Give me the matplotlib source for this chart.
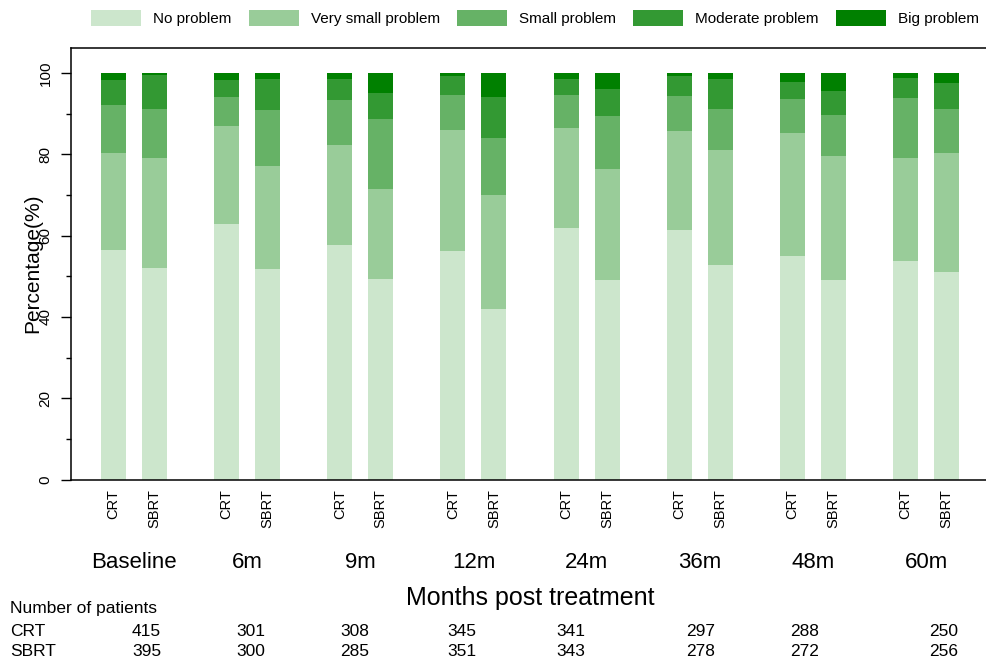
import matplotlib.pyplot as plt
import numpy as np
from matplotlib.transforms import blended_transform_factory

plt.rcParams['font.family'] = ['Liberation Sans', 'DejaVu Sans']

timepoints = ['Baseline', '6m', '9m', '12m', '24m', '36m', '48m', '60m']
categories = ['No problem', 'Very small problem', 'Small problem',
              'Moderate problem', 'Big problem']
colors = ['#cce6cc', '#99cc99', '#66b266', '#339933', '#008000']

# percentages per category, CRT arm
crt_no = [56.4, 62.8, 57.7, 56.2, 61.9, 61.4, 55.0, 53.7]
crt_very_small = [23.9, 24.2, 24.6, 29.8, 24.6, 24.3, 30.2, 25.4]
crt_small = [11.8, 7.1, 11.1, 8.6, 8.1, 8.6, 8.4, 14.7]
crt_moderate = [6.2, 4.2, 5.1, 4.7, 3.9, 5.0, 4.2, 5.0]
crt_big = [1.7, 1.7, 1.5, 0.7, 1.5, 0.7, 2.2, 1.2]

# percentages per category, SBRT arm
sbrt_no = [52.0, 51.8, 49.3, 41.9, 49.1, 52.7, 49.1, 51.0]
sbrt_very_small = [27.1, 25.3, 22.2, 28.1, 27.3, 28.5, 30.5, 29.3]
sbrt_small = [12.0, 13.8, 17.2, 14.0, 13.0, 9.9, 10.1, 10.8]
sbrt_moderate = [8.4, 7.6, 6.4, 10.1, 6.7, 7.4, 5.9, 6.4]
sbrt_big = [0.5, 1.5, 4.9, 5.9, 3.9, 1.5, 4.4, 2.5]

# number of patients
n_crt = [415, 301, 308, 345, 341, 297, 288, 250]
n_sbrt = [395, 300, 285, 351, 343, 278, 272, 256]

crt_series = [crt_no, crt_very_small, crt_small, crt_moderate, crt_big]
sbrt_series = [sbrt_no, sbrt_very_small, sbrt_small, sbrt_moderate, sbrt_big]

W, H = 987, 665
fig = plt.figure(figsize=(W / 100, H / 100), dpi=100)
ax = fig.add_axes([71 / W, 1 - 479.5 / H, 1 - 71 / W, (479.5 - 48) / H])

x = np.arange(len(timepoints))
off = 0.181
width = 0.221

for vals_list, xpos in [(crt_series, x - off), (sbrt_series, x + off)]:
    bottom = np.zeros(len(timepoints))
    for vals, col, lab in zip(vals_list, colors, categories):
        ax.bar(xpos, vals, width, bottom=bottom, color=col, label=lab)
        bottom += np.array(vals)

ax.set_xlim(-0.557, 7.539)
ax.set_ylim(0, 106.2)

ax.spines['right'].set_visible(False)
for s in ['left', 'bottom', 'top']:
    ax.spines[s].set_linewidth(1.1)
    ax.spines[s].set_color('black')

ax.set_yticks([0, 20, 40, 60, 80, 100])
ax.set_yticks([10, 30, 50, 70, 90], minor=True)
ax.tick_params(axis='y', which='major', length=7.2, width=1, pad=6, labelsize=11)
ax.tick_params(axis='y', which='minor', length=3.6, width=1)
for t in ax.get_yticklabels():
    t.set_rotation(90)
    t.set_va('center')

xt = np.concatenate([x - off, x + off])
ax.set_xticks(xt)
ax.set_xticklabels(['CRT'] * len(x) + ['SBRT'] * len(x), rotation=90, fontsize=10.5)
ax.tick_params(axis='x', length=0, pad=7)

# legend across the top
handles, labels = ax.get_legend_handles_labels()
fig.legend(handles[:5], labels[:5], loc='center', bbox_to_anchor=(535 / W, 1 - 18 / H),
           ncol=5, frameon=False, fontsize=11, handlelength=3.27, handleheight=1.31,
           handletextpad=0.78, columnspacing=1.13, borderpad=0)

# y label
fig.text(33 / W, 1 - 263 / H, 'Percentage(%)', rotation=90, ha='center', va='center', fontsize=15)

# group labels under each pair of bars
trans = blended_transform_factory(ax.transData, fig.transFigure)
for i, tp in enumerate(timepoints):
    ax.text(i, 1 - 562 / H, tp, transform=trans, ha='center', va='center', fontsize=16)

fig.text(530 / W, 1 - 598 / H, 'Months post treatment', ha='center', va='center', fontsize=18)

# number of patients table
fig.text(10 / W, 1 - 609 / H, 'Number of patients', ha='left', va='center', fontsize=12.5)
fig.text(10 / W, 1 - 631 / H, 'CRT', ha='left', va='center', fontsize=12.5)
fig.text(10 / W, 1 - 651 / H, 'SBRT', ha='left', va='center', fontsize=12.5)
num_right = [161, 265, 369, 476, 585, 715, 819, 958]
for xr, a, b in zip(num_right, n_crt, n_sbrt):
    fig.text(xr / W, 1 - 631 / H, str(a), ha='right', va='center', fontsize=12.5)
    fig.text(xr / W, 1 - 651 / H, str(b), ha='right', va='center', fontsize=12.5)

fig.savefig('out.png', dpi=100)
